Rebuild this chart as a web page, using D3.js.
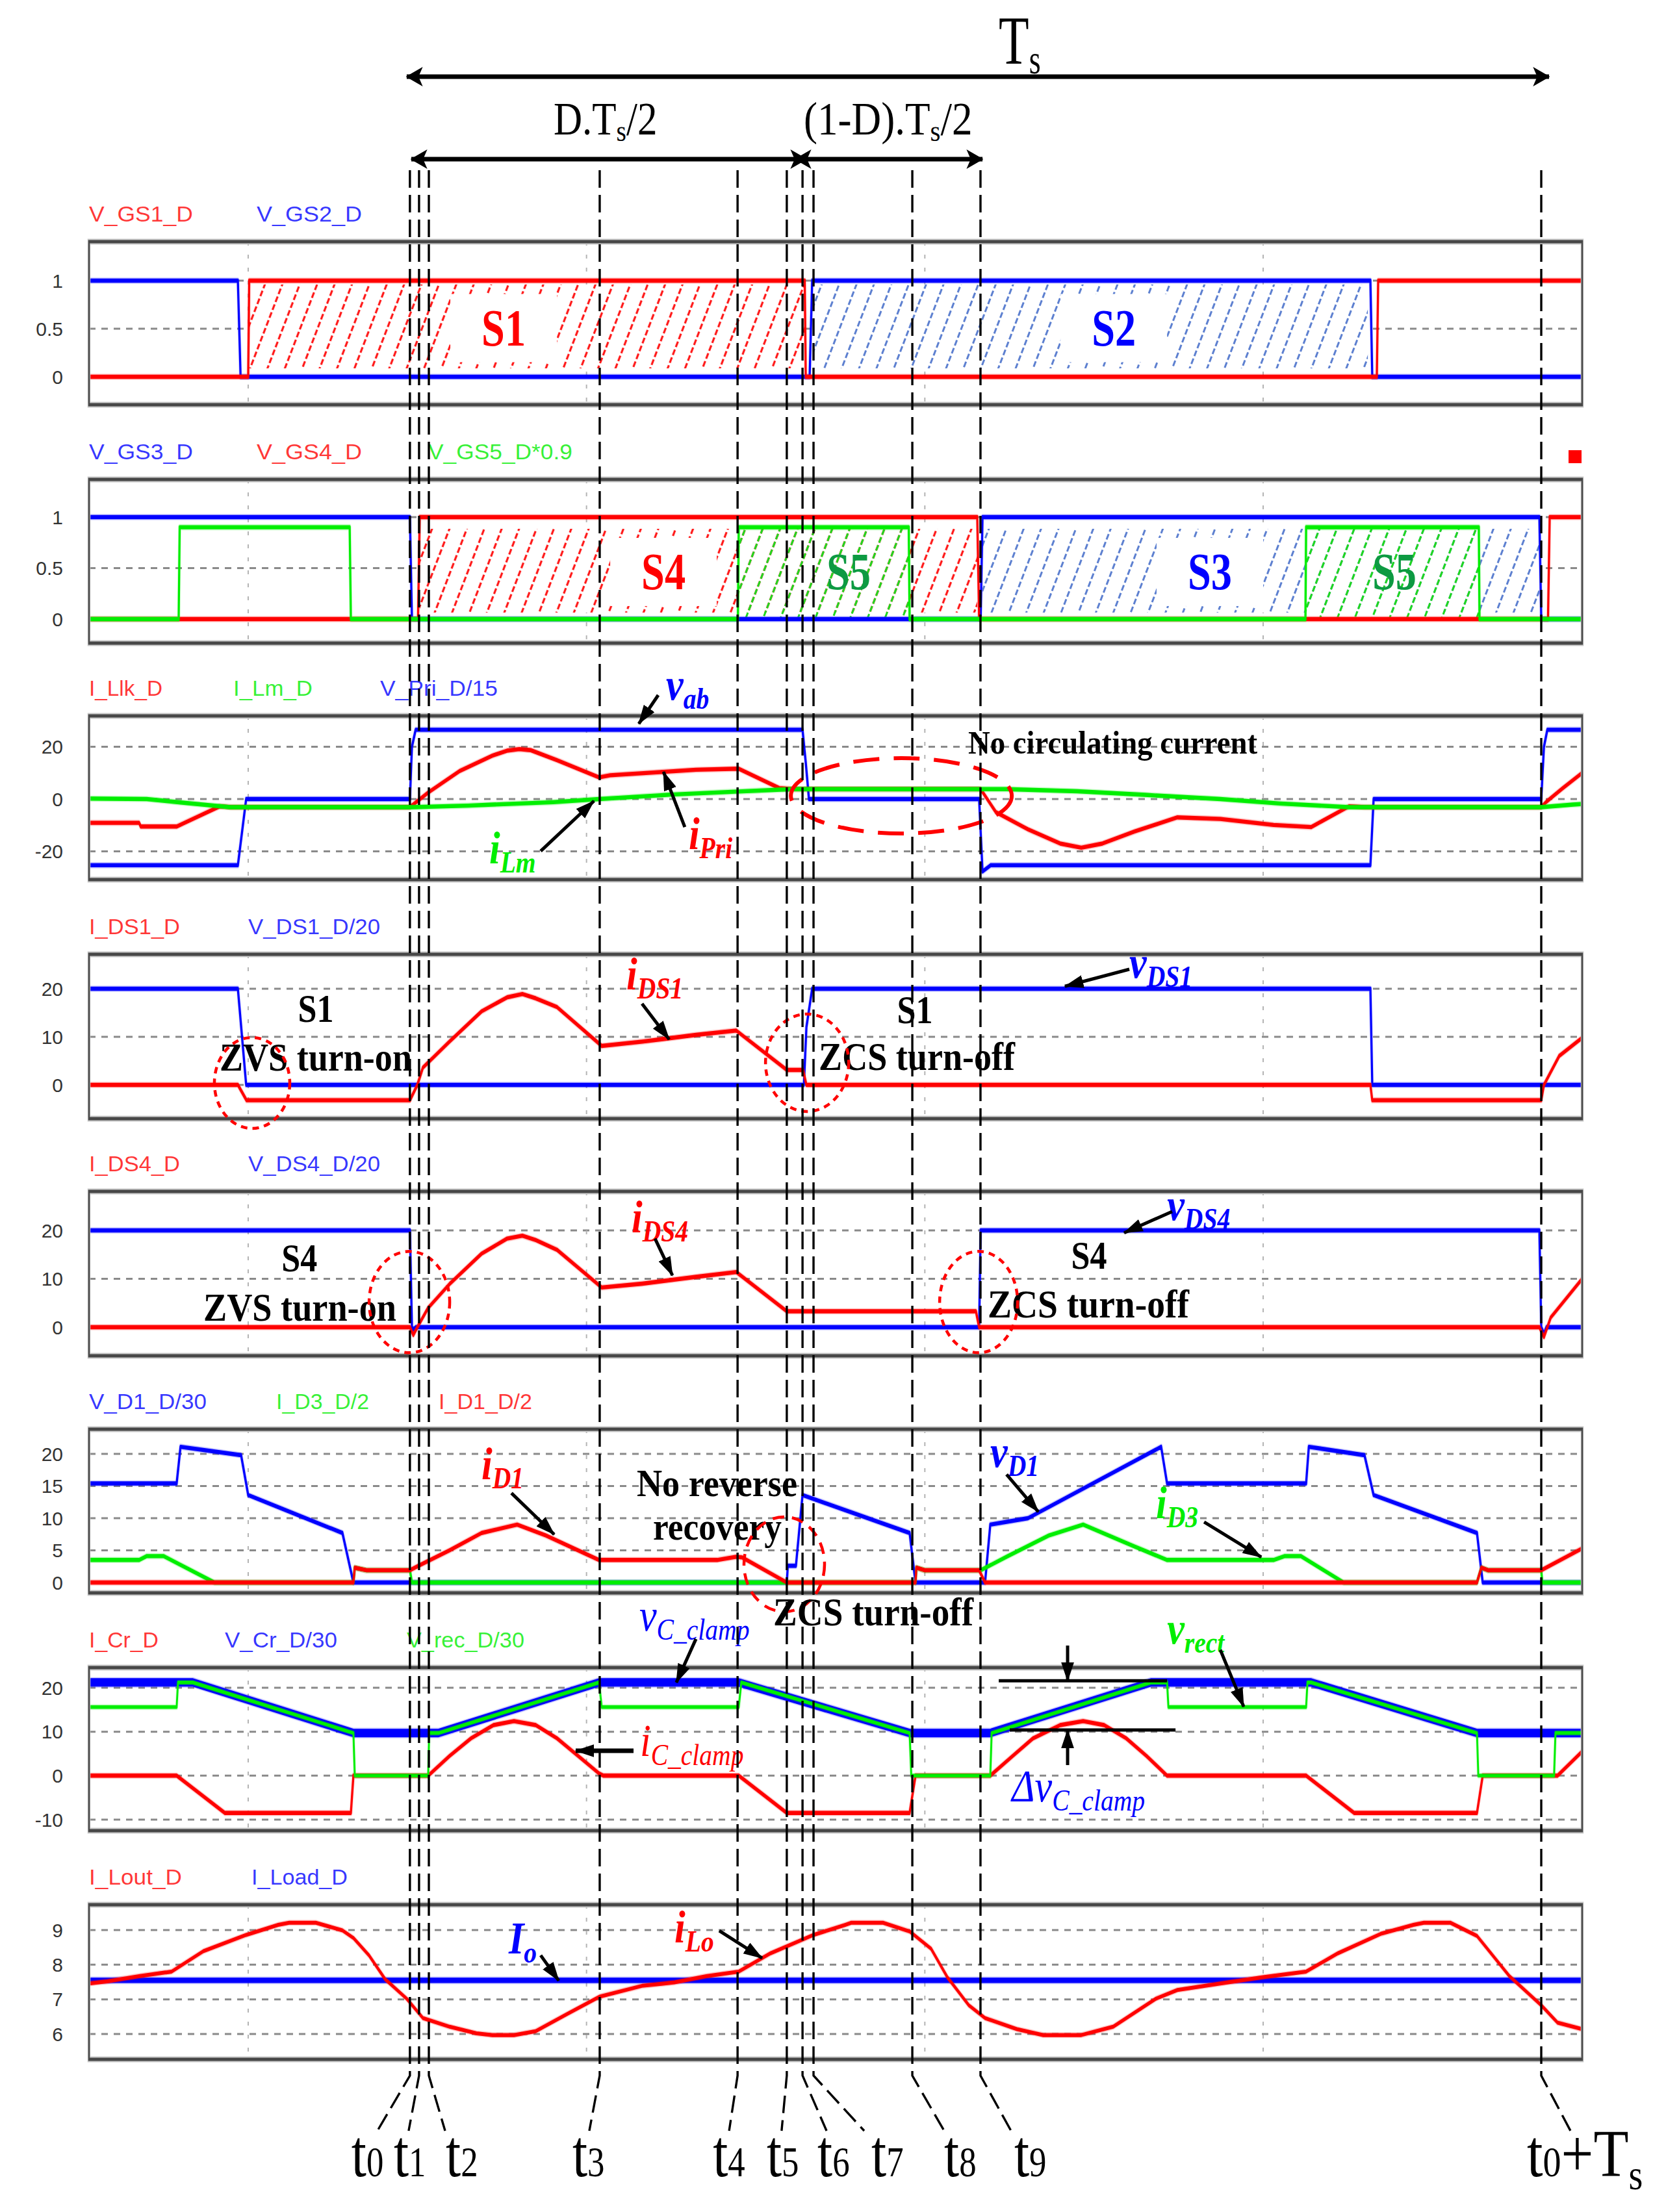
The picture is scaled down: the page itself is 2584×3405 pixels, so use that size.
<!DOCTYPE html>
<html>
<head>
<meta charset="utf-8">
<script src="https://cdn.jsdelivr.net/npm/d3@7"></script>
<style>
  html, body { margin: 0; padding: 0; background: #fff; }
</style>
</head>
<body>
<svg id="chart"></svg>
<script>
// ── time markers (µs) ─────────────────────────────────────
const tMarks = [2.956, 3.010, 3.068, 4.078, 4.893, 5.184, 5.277, 5.342, 5.926, 6.329, 9.644];
const tNames = ['0', '1', '2', '3', '4', '5', '6', '7', '8', '9', 'Ts'];
const gridTimes = [2, 4, 6, 8];

// ── y ticks per panel ─────────────────────────────────────
const ticks = [[0, 0.5, 1], [0, 0.5, 1], [-20, 0, 20], [0, 10, 20], [0, 10, 20],
               [0, 5, 10, 15, 20], [-10, 0, 10, 20], [6, 7, 8, 9]];

const legendNames = [
  ['V_GS1_D', 'V_GS2_D'],
  ['V_GS3_D', 'V_GS4_D', 'V_GS5_D*0.9'],
  ['I_Llk_D', 'I_Lm_D', 'V_Pri_D/15'],
  ['I_DS1_D', 'V_DS1_D/20'],
  ['I_DS4_D', 'V_DS4_D/20'],
  ['V_D1_D/30', 'I_D3_D/2', 'I_D1_D/2'],
  ['I_Cr_D', 'V_Cr_D/30', 'V_rec_D/30'],
  ['I_Lout_D', 'I_Load_D'],
];

// ── waveforms: [t (µs), value] ────────────────────────────
const vGS1 = [[1.059,0],[2.0,0],[2.006,1],[5.29,1],[5.296,0],[8.672,0],[8.68,1],[9.886,1]];
const vGS2 = [[1.059,1],[1.939,1],[1.955,0],[5.319,0],[5.334,1],[8.634,1],[8.645,0],[9.886,0]];

const vGS3 = [[1.059,1],[2.956,1],[2.968,0],[6.33,0],[6.341,1],[9.633,1],[9.644,0],[9.886,0]];
const vGS4 = [[1.059,0],[3.004,0],[3.014,1],[6.31,1],[6.321,0],[9.684,0],[9.694,1],[9.886,1]];
const vGS5 = [[1.059,0],[1.589,0],[1.595,0.9],[2.60,0.9],[2.607,0],[4.895,0],[4.90,0.9],[5.905,0.9],
              [5.91,0],[8.25,0],[8.254,0.9],[9.275,0.9],[9.279,0],[9.886,0]];

const vPri = [[1.059,-25.3],[1.939,-25.3],[1.988,0],[2.956,0],[2.968,20],[2.99,26.5],[5.277,26.5],
              [5.296,14],[5.315,0],[6.321,0],[6.341,-27.7],[6.39,-25.3],[8.634,-25.3],[8.653,0],
              [9.644,0],[9.66,20],[9.68,26.5],[9.886,26.5]];
const iLlk = [[1.059,-9.1],[1.355,-9.1],[1.365,-10.5],[1.577,-10.5],[1.831,-2.8],[1.9,-3.1],[2.956,-3.1],
              [3.0,-0.8],[3.064,2.5],[3.252,10.8],[3.444,16.6],[3.53,18.5],[3.602,19.1],[3.67,18.7],
              [3.825,14.9],[4.074,8.3],[4.14,9.1],[4.455,10.4],[4.647,11.2],[4.9,11.6],[5.14,4.2],
              [5.215,3.8],[6.33,3.8],[6.42,-5.0],[6.61,-11.6],[6.80,-17.0],[6.925,-18.6],[7.05,-17.0],
              [7.24,-12.4],[7.493,-7.0],[7.747,-7.6],[8.062,-9.9],[8.284,-10.7],[8.507,-2.8],[8.6,-3.1],
              [9.644,-3.1],[9.675,-1.0],[9.77,4.1],[9.886,10.0]];
const iLm = [[1.059,0.2],[1.40,0],[1.60,-1.3],[1.892,-3.1],[2.968,-3.1],[3.3,-2.5],[3.8,-1.2],[4.074,0],
             [4.5,1.7],[4.9,2.9],[5.215,3.8],[6.483,3.8],[6.9,3.0],[7.3,1.6],[7.747,0],[8.1,-1.7],
             [8.507,-3.1],[9.644,-3.1],[9.832,-2.1],[9.886,-1.9]];

const iDS1 = [[1.059,0],[1.939,0],[1.99,-3.2],[2.956,-3.2],[3.0,0],[3.033,3.6],[3.19,9],[3.38,15.3],
              [3.53,18.2],[3.621,18.9],[3.70,18.0],[3.825,16.2],[4.09,8.1],[4.33,9.0],[4.647,10.4],
              [4.885,11.3],[5.184,3.1],[5.28,3.1],[5.30,0],[8.634,0],[8.645,-3.2],[9.644,-3.2],
              [9.66,0],[9.75,6.0],[9.886,9.8]];
const vDS1 = [[1.059,20],[1.939,20],[1.988,0],[5.285,0],[5.30,12],[5.334,20],[8.634,20],[8.645,0],[9.886,0]];

const iDS4 = [[1.059,0],[2.956,0],[2.976,-1.6],[3.0,0],[3.064,4.0],[3.19,8.9],[3.38,15.2],[3.53,18.3],
              [3.621,18.9],[3.70,18.0],[3.825,16.0],[4.09,8.2],[4.33,9.0],[4.647,10.4],[4.885,11.4],
              [5.184,3.3],[6.302,3.3],[6.321,0],[9.633,0],[9.66,-2.0],[9.70,2.0],[9.886,10.0]];
const vDS4 = [[1.059,20],[2.956,20],[2.968,0],[2.976,-0.5],[2.99,0],[6.321,0],[6.33,20],[9.633,20],
              [9.644,0],[9.66,-1.3],[9.675,0],[9.886,0]];

const vD1 = [[1.059,15.4],[1.577,15.4],[1.60,21.1],[1.958,19.8],[2.0,13.6],[2.557,7.7],[2.622,0],
             [5.184,0],[5.19,2.6],[5.238,2.6],[5.277,13.6],[5.91,7.7],[5.945,0],[6.356,0],[6.387,9.0],
             [6.61,10.0],[7.397,21.1],[7.432,15.4],[8.254,15.4],[8.27,21.1],[8.599,19.8],[8.653,13.6],
             [9.264,7.7],[9.298,0],[9.886,0]];
const iD3 = [[1.059,3.5],[1.355,3.5],[1.40,4.1],[1.50,4.1],[1.80,0],[2.622,0],[2.63,2.3],[2.70,1.9],
             [2.956,1.9],[2.968,0],[5.945,0],[5.95,2.3],[6.0,1.9],[6.33,1.9],[6.483,4.0],[6.733,7.3],
             [6.936,9.0],[7.24,5.6],[7.432,3.5],[8.062,3.5],[8.127,4.1],[8.223,4.1],[8.476,0],
             [9.264,0],[9.29,2.3],[9.33,1.9],[9.644,1.9],[9.65,0],[9.886,0]];
const iD1 = [[1.059,0],[2.622,0],[2.63,2.3],[2.70,1.9],[2.956,1.9],[3.0,2.5],[3.191,5.0],[3.38,7.7],
             [3.59,9.0],[3.76,7.3],[4.074,3.5],[4.773,3.5],[4.885,4.0],[4.92,3.9],[5.184,0],[5.945,0],
             [5.95,2.3],[6.0,1.9],[6.321,1.9],[6.356,0],[9.264,0],[9.29,2.3],[9.33,1.9],[9.644,1.9],
             [9.886,5.3]];

const vCr = [[1.059,21.2],[1.673,21.2],[2.622,9.7],[3.125,9.7],[4.074,21.2],[4.90,21.2],[5.91,9.7],
             [6.387,9.7],[7.336,21.2],[8.284,21.2],[9.264,9.7],[9.886,9.7]];
const vRec = [[1.059,15.6],[1.577,15.6],[1.585,21.2],[1.673,21.2],[2.622,9.7],[2.63,0],[3.064,0],
              [3.07,9.7],[3.125,9.7],[4.074,21.2],[4.09,15.6],[4.90,15.6],[4.915,21.2],[5.91,9.7],
              [5.92,0],[6.387,0],[6.395,9.7],[7.336,21.2],[7.432,21.2],[7.44,15.6],[8.254,15.6],
              [8.262,21.2],[8.284,21.2],[9.264,9.7],[9.272,0],[9.72,0],[9.728,9.7],[9.886,9.7]];
const iCr = [[1.059,0],[1.577,0],[1.862,-8.5],[2.607,-8.5],[2.622,0],[3.064,0],[3.191,4.5],[3.318,8.5],
             [3.45,11.5],[3.571,12.4],[3.70,11.5],[3.825,8.5],[3.95,4.5],[4.074,0.5],[4.10,0],[4.90,0],
             [5.184,-8.5],[5.91,-8.5],[5.945,0],[6.387,0],[6.52,4.5],[6.64,8.5],[6.80,11.5],[6.936,12.4],
             [7.06,11.5],[7.19,8.5],[7.31,4.5],[7.432,0],[8.254,0],[8.538,-8.5],[9.264,-8.5],[9.298,0],
             [9.74,0],[9.886,5.5]];

const iLoad = [[1.059,7.55],[9.886,7.55]];
const iLout = [[1.059,7.46],[1.166,7.52],[1.355,7.67],[1.547,7.8],[1.735,8.39],[1.988,8.86],[2.177,9.15],
               [2.242,9.21],[2.40,9.21],[2.557,8.99],[2.622,8.77],[2.714,8.27],[2.81,7.58],[2.937,7.02],
               [3.033,6.46],[3.191,6.21],[3.35,6.02],[3.444,5.97],[3.571,5.97],[3.698,6.08],[3.886,6.58],
               [4.078,7.08],[4.328,7.39],[4.52,7.49],[4.708,7.67],[4.9,7.8],[5.088,8.33],[5.342,8.86],
               [5.53,9.15],[5.565,9.21],[5.753,9.21],[5.91,8.96],[6.037,8.46],[6.133,7.64],[6.26,6.83],
               [6.356,6.46],[6.544,6.14],[6.70,5.97],[6.925,5.97],[7.113,6.21],[7.366,7.02],[7.493,7.27],
               [7.747,7.46],[8.0,7.64],[8.254,7.8],[8.442,8.33],[8.695,8.89],[8.888,9.15],[8.95,9.21],
               [9.107,9.21],[9.264,8.83],[9.456,7.67],[9.644,6.83],[9.74,6.33],[9.886,6.14]];

// switch conduction intervals (hatched)  [t start, t end]
const s1On = [2.006, 5.29], s2On = [5.342, 8.619];
const s4On = [3.014, 6.31], s3On = [6.341, 9.633];
const s5On = [[4.90, 5.905], [8.254, 9.275]];

// ── styling / layout ──────────────────────────────────────
const W = 2584, H = 3405;
const SERIF = "'Liberation Serif','Times New Roman',serif";
const SANS = "'Liberation Sans',Arial,sans-serif";
const RED = '#ff0000', BLUE = '#0000ff', GREEN = '#00ee00', DKGREEN = '#0d9a42';

const layout = [
  { top: 372,  bottom: 623,  domain: [-0.29, 1.405] },
  { top: 738,  bottom: 990,  domain: [-0.236, 1.369] },
  { top: 1102, bottom: 1354, domain: [-30.8, 31.8] },
  { top: 1469, bottom: 1722, domain: [-7.03, 27.16] },
  { top: 1834, bottom: 2087, domain: [-5.9, 28.05] },
  { top: 2200, bottom: 2452, domain: [-1.62, 23.84] },
  { top: 2567, bottom: 2818, domain: [-12.52, 24.58] },
  { top: 2932, bottom: 3170, domain: [5.27, 9.73] },
];
const legendColors = [
  [RED, BLUE], [BLUE, RED, GREEN], [RED, GREEN, BLUE], [RED, BLUE],
  [RED, BLUE], [BLUE, GREEN, RED], [RED, BLUE, GREEN], [RED, BLUE],
];
const legendX = [[137,395],[137,395,659],[137,359,585],[137,382],[137,382],[137,425,675],[137,346,626],[137,387]];
const legendW = [[160,162],[160,162,222],[113,122,181],[140,203],[140,203],[181,143,144],[107,173,181],[143,148]];

const panelSeries = [
  [{ d: vGS2, c: BLUE }, { d: vGS1, c: RED }],
  [{ d: vGS3, c: BLUE }, { d: vGS4, c: RED }, { d: vGS5, c: GREEN }],
  [{ d: vPri, c: BLUE }, { d: iLlk, c: RED }, { d: iLm, c: GREEN }],
  [{ d: vDS1, c: BLUE }, { d: iDS1, c: RED }],
  [{ d: vDS4, c: BLUE }, { d: iDS4, c: RED }],
  [{ d: vD1, c: BLUE }, { d: iD3, c: GREEN }, { d: iD1, c: RED }],
  [{ d: vCr, c: BLUE, w: 6.5 }, { d: iCr, c: RED }, { d: vRec, c: GREEN, w: 2.8 }],
  [{ d: iLoad, c: BLUE, w: 4.2 }, { d: iLout, c: RED, w: 3 }],
];

// where the dashed marker lines bend to, and where their labels start (px offsets)
const tLineEndDx = [-50, -16, 25, -16, -13, -8, 37, 78, 49, 47, 45];
const tLabelDx   = [-90, -39, 26, -42, -38, -31, 23, 89, 49, 52, -22];

// ── svg ───────────────────────────────────────────────────
const svg = d3.select('#chart').attr('width', W).attr('height', H).attr('viewBox', `0 0 ${W} ${H}`);
svg.append('rect').attr('width', W).attr('height', H).attr('fill', '#fff');
const defs = svg.append('defs');

defs.append('marker').attr('id', 'head').attr('viewBox', '0 0 10 10')
  .attr('refX', 9.5).attr('refY', 5).attr('markerUnits', 'userSpaceOnUse')
  .attr('markerWidth', 30).attr('markerHeight', 20).attr('preserveAspectRatio', 'none')
  .attr('orient', 'auto')
  .append('path').attr('d', 'M0,0L10,5L0,10Z').attr('fill', '#000');
defs.append('marker').attr('id', 'barb').attr('viewBox', '0 0 10 10')
  .attr('refX', 9.5).attr('refY', 5).attr('markerUnits', 'userSpaceOnUse')
  .attr('markerWidth', 26).attr('markerHeight', 30).attr('preserveAspectRatio', 'none')
  .attr('orient', 'auto-start-reverse')
  .append('path').attr('d', 'M0,0L10,5L0,10L2.5,5Z').attr('fill', '#000');

function hatchPattern(id, color, w) {
  const p = defs.append('pattern').attr('id', id).attr('patternUnits', 'userSpaceOnUse')
    .attr('width', 25).attr('height', 26).attr('patternTransform', 'rotate(21)');
  p.append('line').attr('x1', 12.5).attr('x2', 12.5).attr('y1', 0).attr('y2', 26)
    .attr('stroke', color).attr('stroke-width', w).attr('stroke-dasharray', '9,4');
}
hatchPattern('hRed', '#ff1a1a', 3.2);
hatchPattern('hBlue', '#5d80d0', 3);
hatchPattern('hGreen', '#1fd91f', 3);

const x = d3.scaleLinear().domain([1.059, 9.886]).range([137, 2435]);
layout.forEach(L => { L.y = d3.scaleLinear().domain(L.domain).range([L.bottom, L.top]); });
const P = (i, t, v) => [x(t), layout[i].y(v)];

// ── panels ────────────────────────────────────────────────
layout.forEach((L, i) => {
  const y = L.y;
  const yh = v => y(v) / 2;              // half-height coords, drawn inside scale(1,2)
  const gGrid = svg.append('g').attr('transform', 'scale(1,2)');

  gGrid.selectAll('line.hg').data(ticks[i]).join('line')
    .attr('x1', x.range()[0]).attr('x2', x.range()[1])
    .attr('y1', d => yh(d)).attr('y2', d => yh(d))
    .attr('stroke', '#8a8a8a').attr('stroke-width', 1.5).attr('stroke-dasharray', '10,9');
  gGrid.selectAll('line.vg').data(gridTimes).join('line')
    .attr('x1', d => x(d)).attr('x2', d => x(d))
    .attr('y1', L.top / 2).attr('y2', L.bottom / 2)
    .attr('stroke', '#b4b4b4').attr('stroke-width', 2).attr('stroke-dasharray', '3,7');

  // hatched conduction regions
  const gH = svg.append('g');
  function hatchRect(span, lo, hi, pat, white) {
    const r = [x(span[0]), y(hi), x(span[1]) - x(span[0]), y(lo) - y(hi)];
    if (white) gH.append('rect').attr('x', r[0]).attr('y', r[1]).attr('width', r[2]).attr('height', r[3]).attr('fill', '#fff');
    gH.append('rect').attr('x', r[0]).attr('y', r[1]).attr('width', r[2]).attr('height', r[3])
      .attr('fill', `url(#${pat})`);
  }
  if (i === 0) {
    hatchRect(s1On, 0.088, 0.96, 'hRed', true);
    hatchRect(s2On, 0.088, 0.96, 'hBlue', true);
  }
  if (i === 1) {
    hatchRect(s4On, 0.064, 0.885, 'hRed', true);
    hatchRect(s3On, 0.064, 0.885, 'hBlue', true);
    s5On.forEach(s => hatchRect(s, 0.02, 0.88, 'hGreen', false));
  }

  // switch name labels
  let sLabels = [];
  if (i === 0) sLabels = [['S1', 3.51, RED, true], ['S2', 7.117, BLUE, true]];
  if (i === 1) sLabels = [['S4', 4.455, RED, true], ['S5', 5.549, DKGREEN, false],
                          ['S3', 7.685, BLUE, true], ['S5', 8.776, DKGREEN, false]];
  const vMid = i === 0 ? 0.51 : 0.465;
  sLabels.forEach(([s, t, col, box]) => {
    const cx = x(t), cy = y(vMid);
    if (box) gH.append('rect').attr('x', cx - 82).attr('y', cy - 52).attr('width', 164).attr('height', 105).attr('fill', '#fff');
    gH.append('text').attr('x', cx).attr('y', cy + 27).attr('text-anchor', 'middle')
      .attr('font-family', SERIF).attr('font-weight', 'bold').attr('font-size', 80)
      .attr('textLength', 68).attr('lengthAdjust', 'spacingAndGlyphs')
      .attr('fill', col).text(s);
  });

  // traces
  const gT = svg.append('g').attr('transform', 'scale(1,2)');
  const line = d3.line().x(d => x(d[0])).y(d => yh(d[1]));
  panelSeries[i].forEach(s => {
    const w = s.w || 3.2;
    gT.append('path').datum(s.d).attr('d', line).attr('fill', 'none')
      .attr('stroke', s.c).attr('stroke-opacity', 0.22).attr('stroke-width', w + 1.6)
      .attr('stroke-linejoin', 'round');
    gT.append('path').datum(s.d).attr('d', line).attr('fill', 'none')
      .attr('stroke', s.c).attr('stroke-width', w).attr('stroke-linejoin', 'round');
  });

  // frame
  const gF = svg.append('g').attr('transform', 'scale(1,2)');
  gF.append('rect').attr('x', x.range()[0]).attr('y', L.top / 2)
    .attr('width', x.range()[1] - x.range()[0]).attr('height', (L.bottom - L.top) / 2)
    .attr('fill', 'none').attr('stroke', '#c8c8c8').attr('stroke-width', 4.5);
  gF.append('rect').attr('x', x.range()[0]).attr('y', L.top / 2)
    .attr('width', x.range()[1] - x.range()[0]).attr('height', (L.bottom - L.top) / 2)
    .attr('fill', 'none').attr('stroke', '#474747').attr('stroke-width', 2.5);

  // y tick labels
  svg.append('g').selectAll('text').data(ticks[i]).join('text')
    .attr('x', 97).attr('y', d => y(d)).attr('dy', '0.36em')
    .attr('text-anchor', 'end').attr('font-family', SANS).attr('font-size', 30)
    .attr('fill', '#333').text(d => String(d));

  // legend
  legendNames[i].forEach((name, k) => {
    svg.append('text').attr('x', legendX[i][k]).attr('y', L.top - 31)
      .attr('font-family', SANS).attr('font-size', 34)
      .attr('textLength', legendW[i][k]).attr('lengthAdjust', 'spacingAndGlyphs')
      .attr('fill', legendColors[i][k]).attr('fill-opacity', 0.8).text(name);
  });
});

// stray legend marker (panel 2)
svg.append('rect').attr('x', 2414).attr('y', layout[1].top - 45).attr('width', 20).attr('height', 20).attr('fill', RED);

// ── text helpers ──────────────────────────────────────────
function rich(px, py, parts, o) {
  const t = svg.append('text')
    .attr('transform', `translate(${px},${py}) scale(${o.sx || 1},1)`)
    .attr('font-family', o.family || SERIF).attr('font-size', o.size)
    .attr('font-weight', o.weight || 'normal').attr('font-style', o.style || 'normal')
    .attr('fill', o.fill || '#000').attr('text-anchor', o.anchor || 'start');
  let cur = 0;
  parts.forEach(p => {
    const off = p.off || 0;
    t.append('tspan').attr('font-size', p.size || o.size).attr('dy', off - cur).text(p.s);
    cur = off;
  });
  return t;
}
function word(i, t, v, str, len, size, anchor) {
  const [px, py] = P(i, t, v);
  svg.append('text').attr('x', px).attr('y', py).attr('text-anchor', anchor || 'start')
    .attr('font-family', SERIF).attr('font-weight', 'bold').attr('font-size', size || 62)
    .attr('textLength', len).attr('lengthAdjust', 'spacingAndGlyphs').attr('fill', '#000').text(str);
}
function varLabel(i, t, v, main, sub, color, bold) {
  const [px, py] = P(i, t, v);
  rich(px, py, [{ s: main }, { s: sub, size: 46, off: 14 }],
    { size: 70, sx: 0.86, style: 'italic', weight: bold === false ? 'normal' : 'bold', fill: color });
}
function arrow(i, t1, v1, t2, v2, w) {
  const [x1, y1] = P(i, t1, v1), [x2, y2] = P(i, t2, v2);
  svg.append('line').attr('x1', x1).attr('y1', y1).attr('x2', x2).attr('y2', y2)
    .attr('stroke', '#000').attr('stroke-width', w || 5).attr('marker-end', 'url(#head)');
}
function ring(i, t, v, rx, ry, dash, w) {
  const [cx, cy] = P(i, t, v);
  svg.append('ellipse').attr('cx', cx).attr('cy', cy).attr('rx', rx).attr('ry', ry)
    .attr('fill', 'none').attr('stroke', RED).attr('stroke-width', w).attr('stroke-dasharray', dash);
}

// ── annotations ───────────────────────────────────────────
// panel 3
varLabel(2, 4.47, 38.0, 'v', 'ab', BLUE);
arrow(2, 4.424, 39.75, 4.309, 28.8);
word(2, 6.256, 17.4, 'No circulating current', 445, 50);
ring(2, 5.861, 1.24, 170, 58, '40,22', 6);
varLabel(2, 3.425, -24.6, 'i', 'Lm', GREEN);
arrow(2, 3.729, -19.9, 4.044, -0.75);
varLabel(2, 4.604, -19.1, 'i', 'Pri', RED);
arrow(2, 4.581, -10.7, 4.455, 10.4);

// panel 4
word(3, 2.40, 13.1, 'S1', 55, 62, 'middle');
word(3, 1.831, 3.0, 'ZVS turn-on', 296, 62);
varLabel(3, 4.236, 19.9, 'i', 'DS1', RED);
arrow(3, 4.328, 16.9, 4.489, 9.46);
word(3, 5.941, 12.8, 'S1', 55, 62, 'middle');
word(3, 5.373, 3.1, 'ZCS turn-off', 302, 62);
varLabel(3, 7.209, 22.3, 'v', 'DS1', BLUE);
arrow(3, 7.209, 24.05, 6.828, 20.5);
ring(3, 2.023, 0.4, 58, 70, '10,8', 4.5);
ring(3, 5.304, 4.6, 64, 75, '10,8', 4.5);

// panel 5
word(4, 2.303, 11.5, 'S4', 55, 62, 'middle');
word(4, 1.735, 1.34, 'ZVS turn-on', 297, 62);
varLabel(4, 4.266, 19.6, 'i', 'DS4', RED);
arrow(4, 4.405, 18.3, 4.508, 10.7);
word(4, 6.971, 12.1, 'S4', 55, 62, 'middle');
word(4, 6.371, 2.0, 'ZCS turn-off', 310, 62);
varLabel(4, 7.432, 22.1, 'v', 'DS4', BLUE);
arrow(4, 7.462, 23.9, 7.178, 19.5);
ring(4, 2.953, 5.2, 62, 78, '10,8', 4.5);
ring(4, 6.318, 5.2, 60, 78, '10,8', 4.5);

// panel 6
varLabel(5, 3.379, 16.1, 'i', 'D1', RED);
arrow(5, 3.556, 13.9, 3.809, 7.47);
word(5, 4.297, 13.4, 'No reverse', 247, 60);
word(5, 4.393, 6.7, 'recovery', 198, 60);
ring(5, 5.169, 2.83, 62, 73, '18,12', 4.5);
word(5, 5.104, -6.67, 'ZCS turn-off', 308, 62);
varLabel(5, 6.387, 18.0, 'v', 'D1', BLUE);
arrow(5, 6.483, 16.8, 6.671, 11.0);
varLabel(5, 7.366, 10.0, 'i', 'D3', GREEN);
arrow(5, 7.651, 9.4, 7.989, 3.94);

// panel 7
varLabel(6, 4.312, 33.0, 'v', 'C_clamp', BLUE, false);
arrow(6, 4.647, 31.1, 4.531, 21.2);
varLabel(6, 4.316, 4.48, 'i', 'C_clamp', RED, false);
arrow(6, 4.278, 5.66, 3.936, 5.66, 7);
varLabel(6, 7.432, 30.0, 'v', 'rect', GREEN);
arrow(6, 7.747, 28.6, 7.885, 15.7);
[[6.437, 7.432, 21.6], [6.502, 7.482, 10.4]].forEach(([a, b, v]) => {
  const [x1, yy] = P(6, a, v), [x2] = P(6, b, v);
  svg.append('line').attr('x1', x1).attr('x2', x2).attr('y1', yy).attr('y2', yy)
    .attr('stroke', '#000').attr('stroke-width', 5);
});
arrow(6, 6.844, 29.6, 6.844, 21.6);
arrow(6, 6.844, 2.4, 6.844, 10.4);
varLabel(6, 6.514, -5.85, '\u0394v', 'C_clamp', BLUE, false);

// panel 8
varLabel(7, 3.540, 8.325, 'I', 'o', BLUE);
arrow(7, 3.729, 8.27, 3.836, 7.54);
varLabel(7, 4.52, 8.64, 'i', 'Lo', RED);
arrow(7, 4.785, 8.98, 5.038, 8.19);

// ── period arrows on top ──────────────────────────────────
function spanArrow(t1, t2, yy) {
  svg.append('line').attr('x1', x(t1)).attr('x2', x(t2)).attr('y1', yy).attr('y2', yy)
    .attr('stroke', '#000').attr('stroke-width', 7)
    .attr('marker-start', 'url(#barb)').attr('marker-end', 'url(#barb)');
}
spanArrow(2.937, 9.69, 118);
spanArrow(2.964, 5.30, 245);
spanArrow(5.234, 6.341, 245);
rich(x(6.437), 98, [{ s: 'T' }, { s: 's', size: 64, off: 15 }], { size: 106, sx: 0.72 });
rich(x(3.805), 207, [{ s: 'D.T' }, { s: 's', size: 46, off: 10 }, { s: '/2' }], { size: 71, sx: 0.86 });
rich(x(5.284), 207, [{ s: '(1-D).T' }, { s: 's', size: 46, off: 10 }, { s: '/2' }], { size: 71, sx: 0.89 });

// ── dashed time-instant lines and labels ──────────────────
tMarks.forEach((t, k) => {
  const xx = x(t);
  svg.append('polyline')
    .attr('points', `${xx},262 ${xx},3195 ${xx + tLineEndDx[k]},3280`)
    .attr('fill', 'none').attr('stroke', '#000').attr('stroke-width', 3.4)
    .attr('stroke-dasharray', '27,11');
  const lx = xx + tLabelDx[k];
  if (tNames[k] === 'Ts') {
    rich(lx, 3350, [{ s: 't' }, { s: '0', size: 66 }, { s: '+' }, { s: 'T' }, { s: 's', size: 66, off: 20 }],
      { size: 104, sx: 0.85 });
  } else {
    rich(lx, 3350, [{ s: 't' }, { s: tNames[k], size: 66 }], { size: 104, sx: 0.8 });
  }
});
</script>
</body>
</html>
